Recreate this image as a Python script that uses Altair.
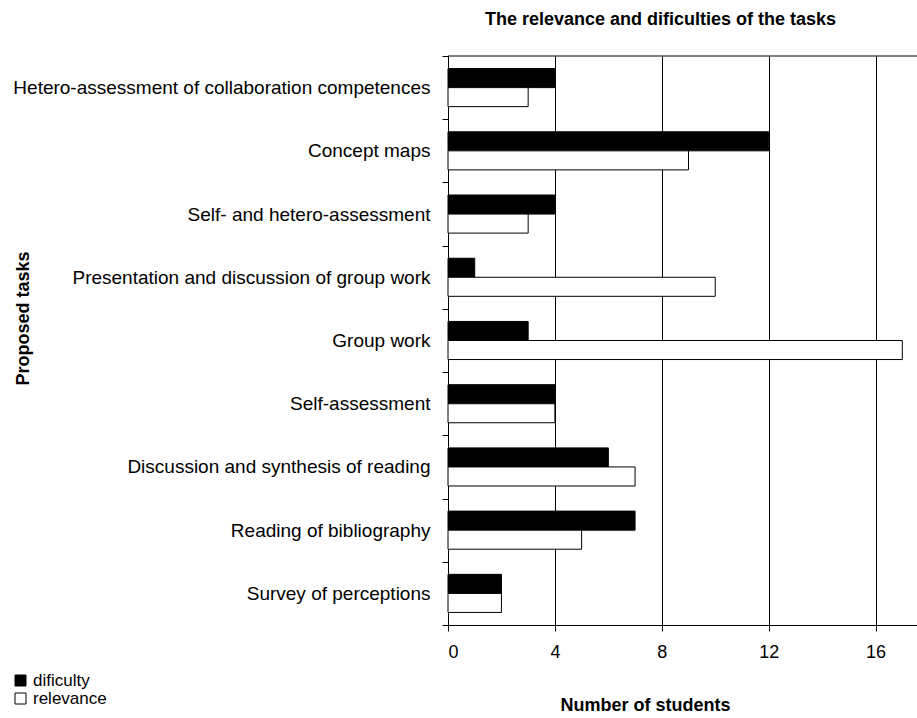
import altair as alt
import pandas as pd

# Tasks listed top to bottom as they appear on the chart
tasks = [
    "Hetero-assessment of collaboration competences",
    "Concept maps",
    "Self- and hetero-assessment",
    "Presentation and discussion of group work",
    "Group work",
    "Self-assessment",
    "Discussion and synthesis of reading",
    "Reading of bibliography",
    "Survey of perceptions",
]
series = ["dificulty", "relevance"]
dificulty = [4, 12, 4, 1, 3, 4, 6, 7, 2]
relevance = [3, 9, 3, 10, 17, 4, 7, 5, 2]
x_ticks = [0, 4, 8, 12, 16]

rows = []
for t, d, r in zip(tasks, dificulty, relevance):
    rows.append({"task": t, "series": "dificulty", "value": d})
    rows.append({"task": t, "series": "relevance", "value": r})
df = pd.DataFrame(rows)

FONT = "Liberation Sans"
W, H = 469, 569

bars = alt.Chart(df).mark_bar(stroke="black", strokeWidth=1).encode(
    x=alt.X(
        "value:Q",
        scale=alt.Scale(domain=[0, 17.55], nice=False, zero=True),
        axis=alt.Axis(
            values=x_ticks,
            grid=True,
            gridColor="#000000",
            gridWidth=1,
            tickSize=6,
            labelPadding=12,
            labelFontSize=18,
            title="Number of students",
            titleX=197,
            titleY=85,
            titleAlign="center",
            titleBaseline="alphabetic",
        ),
    ),
    y=alt.Y(
        "task:N",
        sort=tasks,
        scale=alt.Scale(paddingInner=0, paddingOuter=0),
        axis=alt.Axis(
            grid=False,
            tickBand="extent",
            tickSize=6,
            labelPadding=12,
            labelLimit=600,
            labelFontSize=19,
            title="Proposed tasks",
            titleAngle=-90,
            titleX=-420,
            titleY=262,
            titleAlign="center",
            titleBaseline="alphabetic",
        ),
    ),
    yOffset=alt.YOffset(
        "series:N",
        sort=series,
        scale=alt.Scale(paddingInner=0, paddingOuter=0.66),
    ),
    fill=alt.Fill(
        "series:N",
        sort=series,
        scale=alt.Scale(domain=series, range=["#000000", "#ffffff"]),
        legend=alt.Legend(
            title=None,
            orient="none",
            legendX=-436,
            legendY=616,
            symbolType="square",
            symbolSize=121,
            symbolStrokeColor="black",
            symbolStrokeWidth=1,
            symbolOpacity=1,
            labelFont=FONT,
            labelFontSize=17,
            labelColor="black",
            labelOffset=4,
            rowPadding=0,
        ),
    ),
)

# Border line along the top of the plot area
frame_top = alt.Chart(pd.DataFrame({"k": [0]})).mark_rule(
    color="black", strokeWidth=1
).encode(x=alt.value(0), x2=alt.value(W), y=alt.value(0))

chart = (
    alt.layer(bars, frame_top)
    .properties(
        width=W,
        height=H,
        autosize=alt.AutoSizeParams(type="none"),
        padding={"left": 448, "top": 56, "right": 0, "bottom": 89},
        title=alt.TitleParams(
            "The relevance and dificulties of the tasks",
            font=FONT,
            fontSize=18,
            fontWeight="bold",
            color="black",
            anchor="middle",
            frame="group",
            dx=-22,
            offset=18,
        ),
    )
    .configure_view(strokeWidth=0)
    .configure_axis(
        labelFont=FONT,
        labelColor="black",
        titleFont=FONT,
        titleFontSize=18,
        titleFontWeight="bold",
        titleColor="black",
        domainColor="black",
        domainWidth=1,
        tickColor="black",
    )
)

chart.save("out.html", embed_options={"renderer": "svg", "actions": False})
